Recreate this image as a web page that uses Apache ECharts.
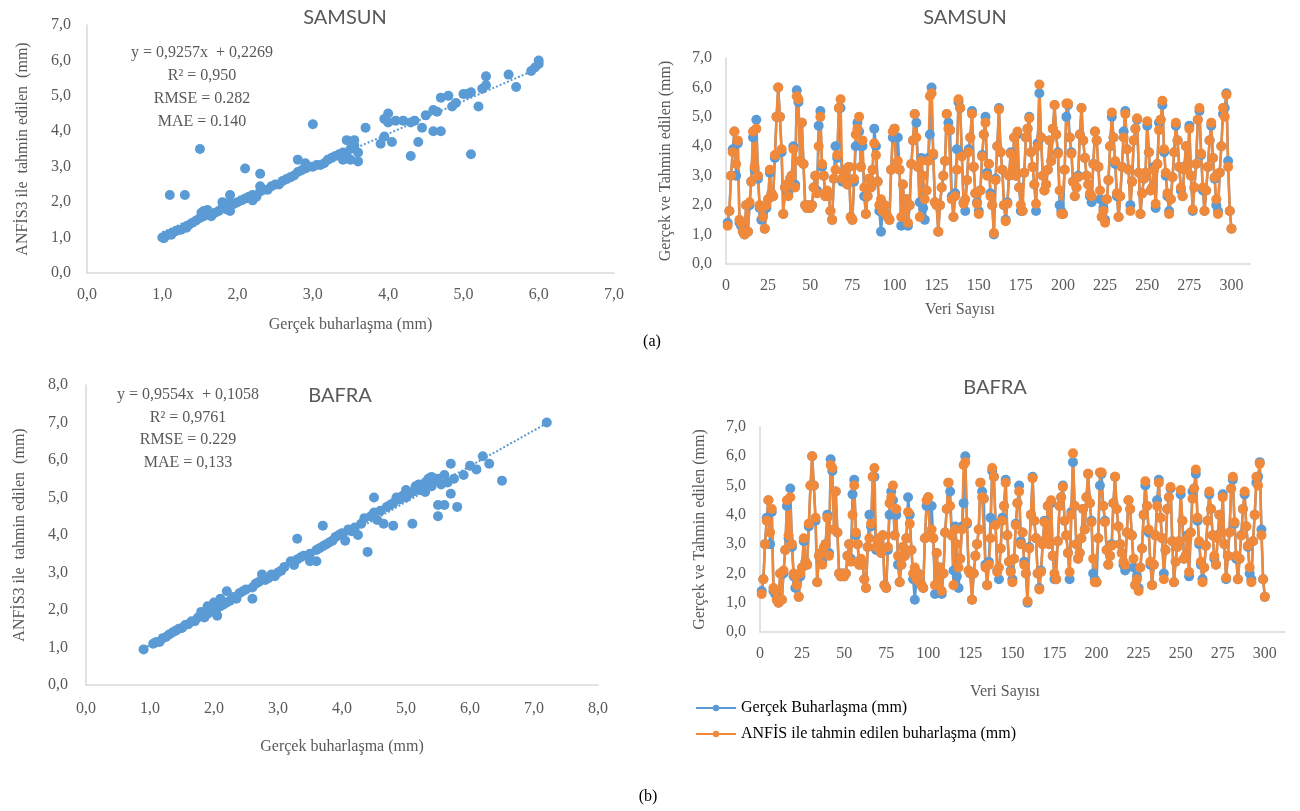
<!DOCTYPE html>
<html>
<head>
<meta charset="utf-8">
<script src="https://cdn.jsdelivr.net/npm/echarts@6/dist/echarts.min.js"></script>
<style>
  html, body { margin: 0; padding: 0; background: #fff; }
  #chart { width: 1300px; height: 811px; }
</style>
</head>
<body>
<div id="chart"></div>
<script>
// ---- data ----
// observed (Gerçek) vs ANFIS predicted evaporation, 300 records
const gercek = [
  1.4, 1.8, 3.0, 3.9, 4.5, 3.0, 4.1, 1.4, 1.3, 1.1,
  1.0, 2.0, 1.1, 2.0, 2.8, 4.3, 3.2, 4.9, 2.9, 1.9,
  1.5, 1.7, 1.2, 1.9, 2.2, 3.1, 2.4, 2.3, 3.6, 5.0,
  6.0, 5.0, 3.8, 1.7, 2.6, 2.6, 2.4, 2.8, 3.0, 4.0,
  2.7, 5.9, 5.5, 3.5, 4.8, 3.4, 2.0, 1.9, 2.0, 1.9,
  2.0, 2.6, 3.0, 2.5, 4.7, 5.2, 3.3, 3.0, 2.3, 2.4,
  2.3, 1.8, 1.5, 2.9, 4.0, 3.6, 5.3, 5.3, 2.8, 3.1,
  3.2, 2.7, 3.3, 1.6, 1.5, 2.8, 4.0, 4.8, 4.5, 3.3,
  4.0, 2.3, 1.7, 2.3, 2.9, 2.6, 3.2, 4.6, 4.0, 2.8,
  1.8, 1.1, 1.8, 2.0, 1.7, 1.6, 1.5, 3.2, 4.3, 4.6,
  3.3, 4.3, 3.2, 1.3, 2.7, 1.8, 2.2, 1.3, 2.0, 3.4,
  4.2, 5.1, 4.8, 3.3, 2.1, 3.6, 1.9, 1.5, 2.5, 3.6,
  4.4, 6.0, 3.7, 2.1, 2.0, 1.1, 2.0, 2.6, 3.0, 3.5,
  5.1, 4.8, 4.55, 2.3, 1.6, 2.4, 3.9, 5.5, 5.3, 3.7,
  2.1, 1.8, 2.85, 3.9, 4.3, 5.2, 3.3, 2.4, 2.1, 1.8,
  2.5, 3.7, 4.4, 5.0, 3.1, 3.4, 2.4, 2.0, 1.0, 2.9,
  4.0, 5.3, 3.8, 3.2, 2.0, 1.5, 2.1, 3.0, 3.8, 3.1,
  4.3, 3.0, 4.4, 2.6, 1.8, 1.8, 3.1, 4.3, 4.6, 5.0,
  3.8, 3.3, 2.7, 1.8, 4.1, 5.8, 4.3, 3.0, 2.5, 2.7,
  3.2, 4.2, 3.5, 4.6, 5.4, 4.4, 3.8, 2.0, 1.8, 1.7,
  3.2, 5.0, 5.4, 4.3, 3.8, 2.8, 2.3, 2.6, 3.0, 4.4,
  5.3, 4.2, 3.6, 3.0, 2.7, 2.3, 2.1, 3.4, 4.5, 4.2,
  3.3, 2.2, 1.6, 1.9, 1.5, 2.2, 2.85, 4.0, 5.0, 4.3,
  3.4, 2.3, 1.6, 2.3, 3.3, 4.5, 5.2, 3.9, 3.2, 2.0,
  2.8, 4.2, 4.6, 4.9, 3.1, 1.7, 2.4, 2.9, 3.1, 4.7,
  3.8, 2.5, 2.6, 3.3, 1.9, 3.4, 4.8, 4.9, 5.4, 3.8,
  3.0, 2.3, 1.8, 2.2, 2.95, 3.8, 4.7, 4.2, 3.3, 2.5,
  2.3, 3.3, 4.0, 3.4, 4.7, 3.0, 1.8, 2.6, 3.4, 4.9,
  5.2, 3.7, 2.5, 1.8, 2.5, 3.3, 4.2, 4.7, 3.6, 2.9,
  2.0, 1.8, 3.1, 4.0, 5.1, 5.3, 5.8, 3.5, 1.8, 1.2
];
const anfis = [
  1.3, 1.8, 3.0, 3.8, 4.5, 3.4, 4.2, 1.5, 1.4, 1.1,
  1.0, 2.0, 1.1, 2.1, 2.8, 4.5, 3.3, 4.6, 3.0, 2.0,
  1.9, 1.6, 1.2, 2.0, 2.2, 3.2, 2.4, 2.3, 3.7, 5.0,
  6.0, 5.0, 3.9, 1.7, 2.6, 2.7, 2.3, 2.9, 3.0, 3.9,
  2.6, 5.7, 5.6, 3.5, 4.8, 3.4, 2.0, 1.9, 2.0, 1.9,
  2.0, 2.6, 3.0, 2.4, 4.0, 5.0, 3.4, 3.0, 2.3, 2.5,
  2.3, 1.8, 1.5, 2.9, 3.2, 3.7, 5.3, 5.6, 2.9, 3.1,
  3.2, 2.7, 3.3, 1.6, 1.5, 2.9, 4.4, 4.6, 5.0, 3.3,
  4.2, 2.6, 1.7, 2.3, 2.9, 2.6, 3.2, 4.1, 3.7, 2.8,
  2.0, 2.2, 1.8, 2.0, 1.7, 1.6, 1.5, 3.2, 4.5, 4.6,
  3.3, 3.5, 3.2, 1.6, 2.7, 1.8, 2.2, 1.4, 2.0, 3.4,
  4.2, 5.1, 4.3, 3.3, 1.6, 3.5, 3.0, 2.2, 2.5, 3.5,
  5.7, 5.8, 3.75, 2.1, 2.0, 1.1, 2.0, 2.6, 3.0, 3.5,
  5.1, 4.6, 4.55, 2.2, 1.6, 2.3, 3.2, 5.6, 5.3, 3.65,
  2.05, 2.2, 2.85, 3.8, 4.3, 5.1, 3.3, 2.4, 2.05, 1.7,
  2.5, 3.65, 4.4, 4.8, 3.0, 3.4, 2.3, 2.0, 1.05, 2.85,
  4.0, 5.25, 3.8, 3.2, 2.0, 1.45, 2.05, 3.0, 3.75, 3.2,
  4.3, 3.0, 4.5, 2.6, 2.0, 1.8, 3.1, 4.3, 4.6, 4.95,
  3.8, 3.3, 2.7, 2.05, 4.0, 6.1, 4.3, 3.0, 2.5, 2.7,
  3.2, 4.2, 3.5, 4.6, 5.4, 4.4, 3.75, 2.5, 1.7, 1.7,
  3.2, 5.45, 5.45, 4.3, 3.75, 2.8, 2.3, 2.6, 2.95, 4.4,
  5.3, 4.2, 3.6, 3.0, 2.7, 2.4, 2.3, 3.4, 4.5, 4.2,
  3.3, 2.5, 1.6, 1.8, 1.4, 2.2, 2.85, 4.0, 5.15, 4.3,
  3.5, 2.4, 1.6, 2.3, 3.3, 4.3, 5.1, 3.9, 3.2, 1.8,
  2.8, 4.2, 4.6, 4.95, 3.1, 1.7, 2.4, 2.9, 3.1, 4.85,
  3.8, 2.5, 2.6, 3.2, 2.05, 3.4, 4.55, 4.9, 5.55, 3.9,
  3.1, 2.4, 1.7, 2.2, 2.95, 3.8, 4.8, 4.2, 3.3, 2.6,
  2.3, 3.2, 4.0, 3.4, 4.6, 3.0, 1.85, 2.6, 3.4, 4.9,
  5.3, 3.75, 2.6, 1.8, 2.5, 3.3, 4.2, 4.8, 3.6, 2.95,
  2.2, 1.7, 3.1, 4.0, 5.3, 5.0, 5.75, 3.3, 1.8, 1.2
];

// scatter: [gerçek, ANFIS3]
const samsunScatter = [
  [1.0,1.0],[1.02,0.98],[1.05,1.05],[1.1,1.1],[1.12,1.08],[1.15,1.15],[1.2,1.2],[1.25,1.22],
  [1.3,1.3],[1.32,1.28],[1.35,1.35],[1.4,1.42],[1.45,1.48],[1.5,1.55],[1.52,1.7],[1.55,1.6],
  [1.55,1.75],[1.6,1.65],[1.6,1.78],[1.65,1.6],[1.7,1.7],[1.75,1.75],[1.8,1.85],[1.8,2.0],
  [1.85,1.8],[1.85,1.95],[1.9,1.75],[1.9,2.0],[1.9,2.2],[1.95,1.95],[2.0,2.0],[2.05,2.05],
  [2.1,2.1],[2.15,2.15],[2.2,2.05],[2.2,2.2],[2.25,2.15],[2.3,2.3],[2.3,2.45],[2.35,2.35],
  [2.4,2.35],[2.45,2.45],[2.5,2.5],[2.55,2.5],[2.6,2.6],[2.65,2.65],[2.7,2.7],[2.75,2.75],
  [2.8,2.85],[2.8,3.2],[2.85,2.9],[2.9,3.1],[2.9,2.95],[2.95,3.0],[3.0,3.0],[3.05,3.05],
  [3.1,3.05],[3.15,3.1],[3.2,3.2],[3.25,3.25],[3.3,3.3],[3.35,3.35],[3.4,3.4],[3.4,3.2],
  [3.45,3.3],[3.5,3.5],[3.5,3.2],[3.55,3.6],[3.55,3.75],[3.6,3.4],[3.6,3.15],[3.45,3.75],
  [3.7,4.1],[3.9,3.65],[3.95,3.85],[3.95,4.35],[4.0,4.5],[4.0,4.25],[4.05,3.7],[4.1,4.3],
  [4.2,4.3],[4.3,4.25],[4.35,4.3],[4.3,3.3],[4.4,3.7],[4.45,4.1],[4.5,4.45],[4.6,4.6],
  [4.65,4.55],[4.6,4.0],[4.7,4.0],[4.7,4.95],[4.8,5.0],[4.85,4.7],[4.9,4.8],[5.0,5.05],
  [5.05,5.05],[5.1,5.1],[5.1,3.35],[5.2,4.7],[5.25,5.2],[5.3,5.55],[5.3,5.3],[5.6,5.6],
  [5.7,5.25],[5.9,5.7],[5.95,5.8],[6.0,6.0],[6.0,5.9],
  [1.1,2.2],[1.3,2.2],[1.5,3.5],[2.1,2.95],[2.3,2.8],[3.0,4.2]
];
const bafraScatter = [
  [0.9,0.95],[1.05,1.1],[1.1,1.15],[1.15,1.15],[1.2,1.25],[1.25,1.28],[1.3,1.35],[1.35,1.4],
  [1.4,1.45],[1.45,1.5],[1.5,1.52],[1.55,1.6],[1.6,1.62],[1.65,1.7],[1.7,1.7],[1.75,1.8],
  [1.8,1.85],[1.8,1.95],[1.85,1.8],[1.9,1.9],[1.9,2.1],[1.95,2.0],[2.0,1.95],[2.0,2.2],
  [2.05,2.05],[2.05,1.85],[2.1,2.1],[2.1,2.3],[2.15,2.15],[2.2,2.2],[2.2,2.5],[2.25,2.25],
  [2.3,2.35],[2.35,2.3],[2.4,2.45],[2.45,2.5],[2.5,2.55],[2.6,2.6],[2.6,2.3],[2.65,2.7],
  [2.7,2.75],[2.75,2.95],[2.8,2.8],[2.85,2.85],[2.9,2.95],[2.95,2.9],[3.0,3.0],[3.05,3.05],
  [3.1,3.15],[3.2,3.3],[3.25,3.2],[3.3,3.35],[3.3,3.9],[3.35,3.4],[3.4,3.45],[3.5,3.5],
  [3.5,3.3],[3.6,3.6],[3.6,3.3],[3.65,3.65],[3.7,3.7],[3.7,4.25],[3.75,3.75],[3.8,3.8],
  [3.85,3.85],[3.9,3.95],[3.95,4.0],[4.0,4.05],[4.05,3.85],[4.1,4.15],[4.15,4.1],[4.2,4.2],
  [4.25,4.0],[4.3,4.3],[4.35,4.45],[4.4,3.55],[4.45,4.5],[4.5,4.6],[4.5,5.0],[4.55,4.4],
  [4.6,4.65],[4.65,4.3],[4.7,4.75],[4.75,4.8],[4.8,4.85],[4.8,4.25],[4.85,5.0],[4.9,4.95],
  [4.95,5.05],[5.0,5.0],[5.0,5.2],[5.05,5.1],[5.1,4.3],[5.1,5.15],[5.15,5.3],[5.2,5.2],
  [5.2,5.35],[5.25,5.25],[5.3,5.4],[5.3,5.15],[5.35,5.5],[5.4,5.55],[5.4,5.3],[5.45,5.45],
  [5.5,4.8],[5.5,5.5],[5.5,4.5],[5.55,5.35],[5.6,5.6],[5.6,4.8],[5.65,5.4],[5.7,5.9],
  [5.7,5.1],[5.75,5.5],[5.8,4.75],[5.9,5.6],[6.0,5.85],[6.1,5.75],[6.2,6.1],[6.3,5.9],
  [6.5,5.45],[7.2,7.0]
];
// linear trend line end points
const samsunTrend = [[1.0, 1.15], [6.0, 5.78]];
const bafraTrend = [[0.9, 0.97], [7.2, 6.98]];

const samsunStats = ["y = 0,9257x  + 0,2269", "R² = 0,950", "RMSE = 0.282", "MAE = 0.140"];
const bafraStats = ["y = 0,9554x  + 0,1058", "R² = 0,9761", "RMSE = 0.229", "MAE = 0,133"];

const legendNames = ["Gerçek Buharlaşma (mm)", "ANFİS ile tahmin edilen buharlaşma (mm)"];

// ---- styling ----
const SERIF = '"Liberation Serif", "DejaVu Serif", serif';
const SANS = 'Lato, "Open Sans", "Liberation Sans", sans-serif';
const GRAY = "#595959";
const BLUE = "#5B9BD5";
const ORANGE = "#F0893A";
const AXIS = "#D9D9D9";

const comma = (v) => v.toFixed(1).replace(".", ",");
const indexed = (arr) => arr.map((v, i) => [i + 1, v]);

function valAxis(grid, min, max, interval, extra) {
  return Object.assign({
    type: "value", gridIndex: grid, min, max, interval,
    axisLine: { show: true, lineStyle: { color: AXIS, width: 1.5 } },
    axisTick: { show: false },
    splitLine: { show: false },
    axisLabel: { color: GRAY, fontFamily: SERIF, fontSize: 16, formatter: comma },
    nameTextStyle: { color: GRAY, fontFamily: SERIF, fontSize: 16 },
  }, extra);
}

function statsText(lines, cx, y0, gap) {
  return lines.map((t, i) => ({
    type: "text", x: cx, y: y0 + i * gap,
    style: { text: t, fill: GRAY, font: `16px ${SERIF}`, textAlign: "center", textVerticalAlign: "middle" },
  }));
}
function label(t, x, y, font, fill) {
  return { type: "text", x, y, style: { text: t, fill: fill || GRAY, font, textAlign: "center", textVerticalAlign: "middle" } };
}

function seriesLine(name, axis, values, color) {
  return {
    name, type: "line", xAxisIndex: axis, yAxisIndex: axis, data: indexed(values),
    symbol: "circle", symbolSize: 10, showAllSymbol: true,
    lineStyle: { color, width: 2.5 }, itemStyle: { color },
  };
}

const chart = echarts.init(document.getElementById("chart"), null, { renderer: "canvas" });

chart.setOption({
  animation: false,
  backgroundColor: "#fff",
  grid: [
    { left: 87, top: 25, width: 527, height: 248 },
    { left: 726, top: 58, width: 524, height: 206 },
    { left: 86, top: 385, width: 512, height: 300 },
    { left: 760, top: 427, width: 525, height: 205 },
  ],
  xAxis: [
    valAxis(0, 0, 7, 1, { name: "Gerçek buharlaşma (mm)", nameLocation: "middle", nameGap: 44, axisLabel: { color: GRAY, fontFamily: SERIF, fontSize: 16, formatter: comma, margin: 14 } }),
    valAxis(1, 0, 311, 25, { axisLabel: { color: GRAY, fontFamily: SERIF, fontSize: 16, margin: 14, showMaxLabel: false } }),
    valAxis(2, 0, 8, 1, { name: "Gerçek buharlaşma (mm)", nameLocation: "middle", nameGap: 54, axisLabel: { color: GRAY, fontFamily: SERIF, fontSize: 16, formatter: comma, margin: 16 } }),
    valAxis(3, 0, 312, 25, { axisLabel: { color: GRAY, fontFamily: SERIF, fontSize: 16, margin: 14, showMaxLabel: false } }),
  ],
  yAxis: [
    valAxis(0, 0, 7, 1, { name: "ANFİS3 ile  tahmin edilen  (mm)", nameLocation: "middle", nameGap: 56, axisLabel: { color: GRAY, fontFamily: SERIF, fontSize: 16, formatter: comma, margin: 16 } }),
    valAxis(1, 0, 7, 1, { name: "Gerçek ve Tahmin edilen (mm)", nameLocation: "middle", nameGap: 52, axisLabel: { color: GRAY, fontFamily: SERIF, fontSize: 16, formatter: comma, margin: 14 } }),
    valAxis(2, 0, 8, 1, { name: "ANFİS3 ile  tahmin edilen  (mm)", nameLocation: "middle", nameGap: 58, axisLabel: { color: GRAY, fontFamily: SERIF, fontSize: 16, formatter: comma, margin: 18 } }),
    valAxis(3, 0, 7, 1, { name: "Gerçek ve Tahmin edilen (mm)", nameLocation: "middle", nameGap: 52, axisLabel: { color: GRAY, fontFamily: SERIF, fontSize: 16, formatter: comma, margin: 14 } }),
  ],
  legend: {
    orient: "vertical", left: 690, top: 695, itemGap: 10,
    itemWidth: 40, itemHeight: 8,
    data: legendNames,
    itemStyle: { borderWidth: 0 },
    textStyle: { color: "#000", fontFamily: SERIF, fontSize: 16 },
  },
  series: [
    // SAMSUN scatter
    { type: "line", xAxisIndex: 0, yAxisIndex: 0, data: samsunTrend, symbol: "none", silent: true,
      lineStyle: { color: BLUE, width: 2, type: "dotted" } },
    { type: "scatter", xAxisIndex: 0, yAxisIndex: 0, data: samsunScatter, symbolSize: 10,
      itemStyle: { color: BLUE, opacity: 1 } },
    // SAMSUN series
    seriesLine(legendNames[0], 1, gercek, BLUE),
    seriesLine(legendNames[1], 1, anfis, ORANGE),
    // BAFRA scatter
    { type: "line", xAxisIndex: 2, yAxisIndex: 2, data: bafraTrend, symbol: "none", silent: true,
      lineStyle: { color: BLUE, width: 2, type: "dotted" } },
    { type: "scatter", xAxisIndex: 2, yAxisIndex: 2, data: bafraScatter, symbolSize: 10,
      itemStyle: { color: BLUE, opacity: 1 } },
    // BAFRA series
    seriesLine(legendNames[0], 3, gercek, BLUE),
    seriesLine(legendNames[1], 3, anfis, ORANGE),
  ],
  graphic: [
    label("SAMSUN", 345, 18, `20px ${SANS}`),
    label("SAMSUN", 965, 18, `20px ${SANS}`),
    label("BAFRA", 340, 396, `20px ${SANS}`),
    label("BAFRA", 995, 388, `20px ${SANS}`),
    label("Veri Sayısı", 960, 310, `16px ${SERIF}`),
    label("Veri Sayısı", 1005, 692, `16px ${SERIF}`),
    label("(a)", 652, 342, `16px ${SERIF}`, "#000"),
    label("(b)", 648, 797, `16px ${SERIF}`, "#000"),
    ...statsText(samsunStats, 202, 53, 23),
    ...statsText(bafraStats, 188, 395, 22.5),
  ],
});
</script>
</body>
</html>
